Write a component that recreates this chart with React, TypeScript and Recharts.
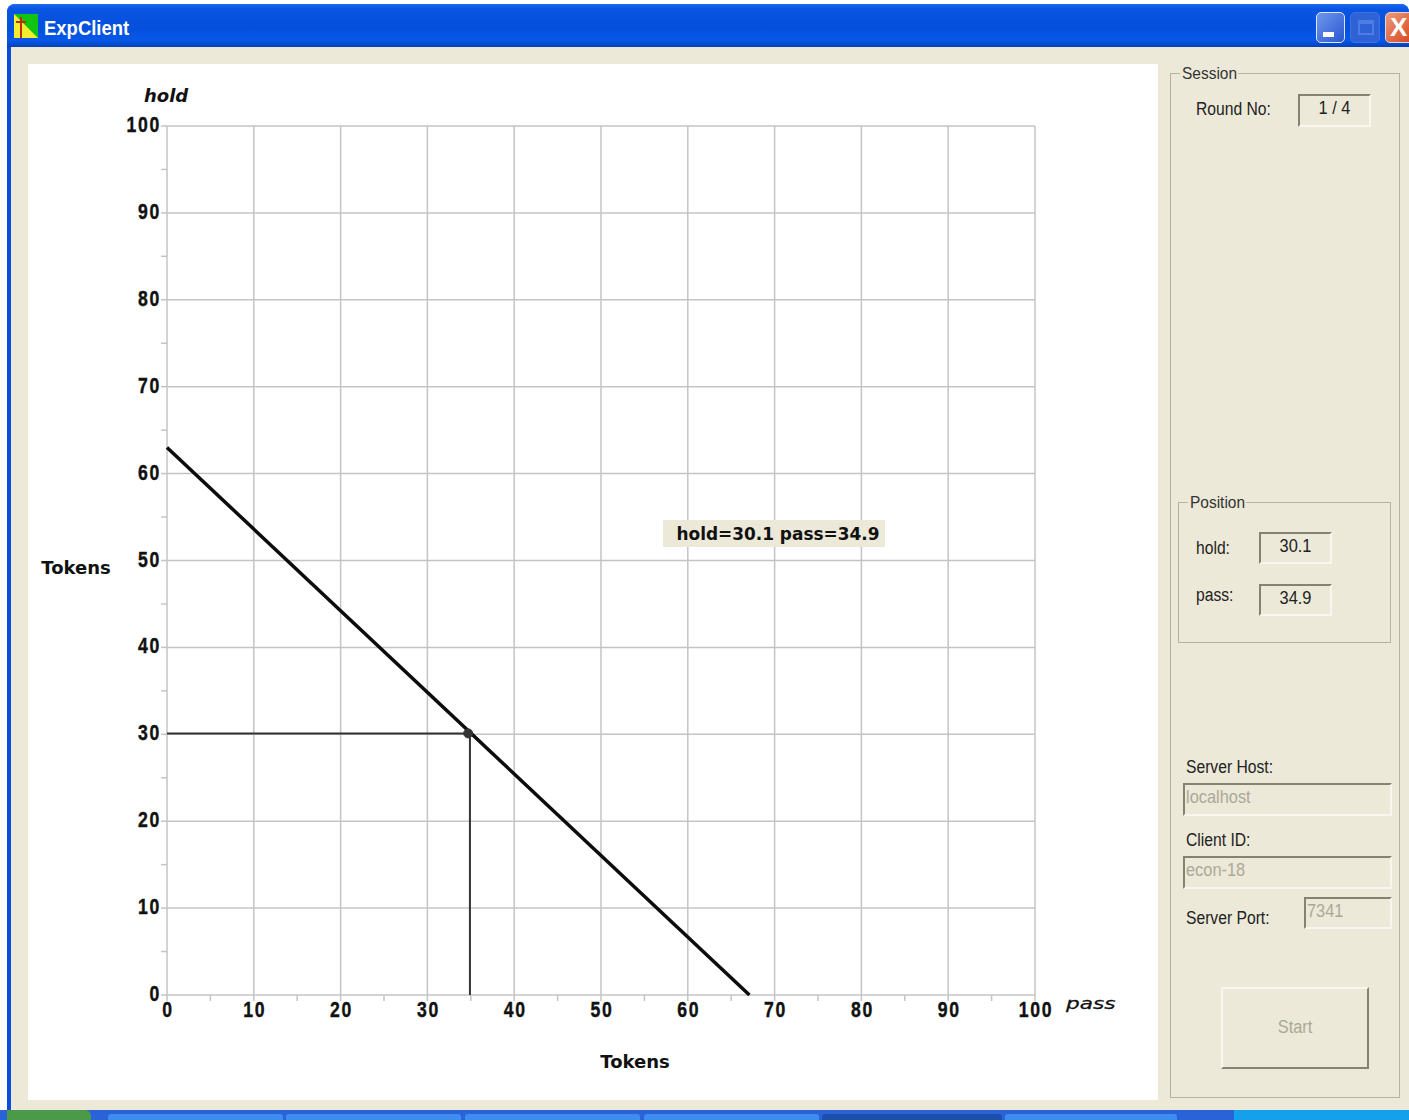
import React from "react";
import {
  ComposedChart,
  Line,
  XAxis,
  YAxis,
  CartesianGrid,
} from "recharts";

const axisTicks = [0, 5, 10, 15, 20, 25, 30, 35, 40, 45, 50, 55, 60, 65, 70, 75, 80, 85, 90, 95, 100];
const gridValues = [0, 10, 20, 30, 40, 50, 60, 70, 80, 90, 100];

const budgetLine = [
  { pass: 0, hold: 63 },
  { pass: 67.1, hold: 0 },
];
const holdGuide = [
  { pass: 0, hold: 30.1 },
  { pass: 34.9, hold: 30.1 },
];
const passGuide = [
  { pass: 34.9, hold: 30.1 },
  { pass: 34.9, hold: 0 },
];
const position = [{ pass: 34.7, hold: 30.1 }];

const UI_FONT = '"Liberation Sans", Arial, sans-serif';
const BEIGE = "#ece9d8";

// the original digits are tall and narrow with wide gaps, so squeeze them sideways
const XTick = ({ x, y, payload }: any) =>
  payload.value % 10 === 0 ? (
    <text
      transform={`translate(${x + 1},${y + 14}) scale(0.84,1.08)`}
      textAnchor="middle"
      fontFamily={UI_FONT}
      fontWeight="bold"
      fontSize={21}
      letterSpacing={2}
      stroke="#111"
      strokeWidth={0.4}
      fill="#111"
    >
      {payload.value}
    </text>
  ) : null;

const YTick = ({ x, y, payload }: any) =>
  payload.value % 10 === 0 ? (
    <text
      transform={`translate(${x + 2},${y + 6}) scale(0.84,1.08)`}
      textAnchor="end"
      fontFamily={UI_FONT}
      fontWeight="bold"
      fontSize={21}
      letterSpacing={2}
      stroke="#111"
      strokeWidth={0.4}
      fill="#111"
    >
      {payload.value}
    </text>
  ) : null;

const box = (left: number, top: number, width: number, height: number): React.CSSProperties => ({
  position: "absolute",
  left,
  top,
  width,
  height,
  boxSizing: "border-box",
});

const narrow: React.CSSProperties = {
  display: "inline-block",
  transform: "scaleX(0.91)",
  whiteSpace: "nowrap",
};

const GroupBox = ({ left, top, width, height, title }: any) => (
  <div style={{ ...box(left, top, width, height), border: "1.5px solid #b5b29e" }}>
    <span
      style={{
        position: "absolute",
        left: 9,
        top: -10,
        background: BEIGE,
        padding: "0 2px",
        fontSize: 17,
        lineHeight: "20px",
        color: "#333",
      }}
    >
      <span style={{ ...narrow, transformOrigin: "left", marginRight: -6 }}>{title}</span>
    </span>
  </div>
);

const Field = ({ left, top, width, height, text, center, muted }: any) => (
  <div
    style={{
      ...box(left, top, width, height),
      borderTop: "2.5px solid #85826f",
      borderLeft: "2.5px solid #85826f",
      borderRight: "2px solid #f8f6ee",
      borderBottom: "2.5px solid #f8f6ee",
      color: muted ? "#aca899" : "#222",
      fontSize: 18,
      lineHeight: `${height - 8}px`,
      textAlign: center ? "center" : "left",
      paddingLeft: center ? 0 : 1,
    }}
  >
    <span style={{ ...narrow, transformOrigin: center ? "center" : "left" }}>{text}</span>
  </div>
);

const Caption = ({ left, top, text }: any) => (
  <div style={{ position: "absolute", left, top, fontSize: 18, lineHeight: "20px", color: "#222" }}>
    <span style={{ ...narrow, transform: "scaleX(0.87)", transformOrigin: "left" }}>{text}</span>
  </div>
);

const TaskButton = ({ left, width, active }: any) => (
  <div
    style={{
      ...box(left, 1114, width, 6),
      background: active ? "#1c4fa8" : "#3f8cf0",
      borderRadius: "3px 3px 0 0",
    }}
  />
);

export default function App() {
  return (
    <div
      style={{
        position: "fixed",
        left: 0,
        top: 0,
        width: 1409,
        height: 1120,
        background: "#fff",
        overflow: "hidden",
        fontFamily: UI_FONT,
      }}
    >
      {/* window frame */}
      <div style={{ ...box(7, 4, 1402, 1106), background: "#0b4be0", borderRadius: "8px 8px 0 0" }} />
      <div style={{ ...box(11, 47, 1398, 1063), background: BEIGE }} />
      <div
        style={{
          ...box(7, 4, 1402, 43),
          borderRadius: "8px 8px 0 0",
          background: "linear-gradient(180deg, #1a6cf0 0%, #0a55e2 12%, #0450dc 55%, #0758e8 85%, #0440b8 100%)",
        }}
      />
      <svg style={box(14, 14, 24, 24)} viewBox="0 0 24 24">
        <rect width="24" height="24" fill="#11c411" />
        <polygon points="0,0 24,24 0,24" fill="#f4ee30" />
        <path d="M7 3V24M2 8H12" stroke="#c42a10" strokeWidth="2" />
      </svg>
      <div
        style={{
          position: "absolute",
          left: 44,
          top: 16,
          fontWeight: "bold",
          fontSize: 21,
          lineHeight: "24px",
          color: "#fff",
          transform: "scaleX(0.88)",
          transformOrigin: "left",
        }}
      >
        ExpClient
      </div>

      {/* title bar buttons */}
      <div
        style={{
          ...box(1316, 12, 29, 31),
          borderRadius: 5,
          border: "1.5px solid #dce6fa",
          background: "linear-gradient(135deg, #6f97ee, #2b57cf)",
        }}
      >
        <div style={{ ...box(6, 19, 11, 5), background: "#fff" }} />
      </div>
      <div
        style={{
          ...box(1350, 12, 30, 31),
          borderRadius: 5,
          border: "1.5px solid #3f72de",
          background: "#2f62d6",
        }}
      >
        <div style={{ ...box(7, 7, 16, 15), border: "2px solid #4d7de2", borderTopWidth: 4 }} />
      </div>
      <div
        style={{
          ...box(1385, 12, 30, 31),
          borderRadius: 5,
          border: "1.5px solid #e8d5cc",
          background: "linear-gradient(135deg, #ec9a7c, #d4441c)",
          color: "#fff",
          fontSize: 26,
          fontWeight: "bold",
          lineHeight: "28px",
          paddingLeft: 4,
        }}
      >
        X
      </div>

      {/* chart panel */}
      <div style={{ ...box(28, 64, 1130, 1036), background: "#fff" }} />
      <div style={{ position: "absolute", left: 0, top: 0 }}>
        <ComposedChart
          width={1409}
          height={1120}
          margin={{ top: 126, right: 374, bottom: 85, left: 107 }}
        >
          <CartesianGrid
            stroke="#c4c4c4"
            strokeWidth={1.5}
            verticalValues={gridValues}
            horizontalValues={gridValues}
          />
          <XAxis
            type="number"
            dataKey="pass"
            domain={[0, 100]}
            ticks={axisTicks}
            interval={0}
            height={40}
            axisLine={false}
            tickLine={{ stroke: "#c4c4c4", strokeWidth: 1.5 }}
            tickSize={6}
            tick={<XTick />}
          />
          <YAxis
            type="number"
            dataKey="hold"
            domain={[0, 100]}
            ticks={axisTicks}
            interval={0}
            width={60}
            axisLine={false}
            tickLine={{ stroke: "#c4c4c4", strokeWidth: 1.5 }}
            tickSize={6}
            tick={<YTick />}
          />
          <Line
            data={holdGuide}
            dataKey="hold"
            stroke="#333"
            strokeWidth={2}
            dot={false}
            isAnimationActive={false}
          />
          <Line
            data={passGuide}
            dataKey="hold"
            stroke="#333"
            strokeWidth={2}
            dot={false}
            isAnimationActive={false}
          />
          <Line
            data={budgetLine}
            dataKey="hold"
            stroke="#0c0c0c"
            strokeWidth={3.5}
            dot={false}
            isAnimationActive={false}
          />
          <Line
            data={position}
            dataKey="hold"
            stroke="#333"
            dot={{ r: 4.5, fill: "#333", stroke: "#333" }}
            isAnimationActive={false}
          />
          <text x={144} y={102} fontFamily="DejaVu Sans" fontStyle="italic" fontWeight="bold" fontSize={18} fill="#111">
            hold
          </text>
          <text
            transform="translate(1066,1009) scale(1.2,0.9)"
            fontFamily="DejaVu Sans"
            fontStyle="italic"
            fontSize={18}
            stroke="#111"
            strokeWidth={0.3}
            fill="#111"
          >
            pass
          </text>
          <text x={76} y={574} textAnchor="middle" fontFamily="DejaVu Sans" fontWeight="bold" fontSize={18} fill="#111">
            Tokens
          </text>
          <text x={635} y={1068} textAnchor="middle" fontFamily="DejaVu Sans" fontWeight="bold" fontSize={18} fill="#111">
            Tokens
          </text>
        </ComposedChart>
      </div>
      <div
        style={{
          ...box(663, 520, 222, 27),
          background: BEIGE,
          fontFamily: "DejaVu Sans",
          fontWeight: "bold",
          fontSize: 18,
          lineHeight: "27px",
          textAlign: "center",
          color: "#111",
          whiteSpace: "nowrap",
        }}
      >
        <span style={{ display: "inline-block", transform: "translateX(4px) scaleX(0.94)" }}>hold=30.1 pass=34.9</span>
      </div>

      {/* side panel */}
      <GroupBox left={1170} top={73} width={230} height={1025} title="Session" />
      <Caption left={1196} top={99} text="Round No:" />
      <Field left={1298} top={94} width={73} height={33} text="1 / 4" center />

      <GroupBox left={1178} top={502} width={213} height={141} title="Position" />
      <Caption left={1196} top={538} text="hold:" />
      <Field left={1259} top={532} width={73} height={32} text="30.1" center />
      <Caption left={1196} top={585} text="pass:" />
      <Field left={1259} top={584} width={73} height={32} text="34.9" center />

      <Caption left={1186} top={757} text="Server Host:" />
      <Field left={1183} top={783} width={209} height={33} text="localhost" muted />
      <Caption left={1186} top={830} text="Client ID:" />
      <Field left={1183} top={856} width={209} height={33} text="econ-18" muted />
      <Caption left={1186} top={908} text="Server Port:" />
      <Field left={1304} top={897} width={88} height={32} text="7341" muted />

      <div
        style={{
          ...box(1221, 987, 148, 82),
          borderTop: "2px solid #f8f6ee",
          borderLeft: "2px solid #f8f6ee",
          borderRight: "2.5px solid #85826f",
          borderBottom: "2.5px solid #85826f",
          color: "#aca899",
          fontSize: 18,
          lineHeight: "76px",
          textAlign: "center",
        }}
      >
        <span style={narrow}>Start</span>
      </div>

      {/* taskbar */}
      <div style={{ ...box(0, 1110, 1409, 10), background: "#2a62d8" }} />
      <div style={{ ...box(7, 1110, 84, 10), background: "#4a9a4a", borderRadius: "0 6px 0 0" }} />
      <TaskButton left={108} width={175} />
      <TaskButton left={286} width={175} />
      <TaskButton left={465} width={175} />
      <TaskButton left={644} width={175} />
      <TaskButton left={822} width={180} active />
      <TaskButton left={1005} width={172} />
      <div style={{ ...box(1234, 1110, 175, 10), background: "#14a0ea" }} />
    </div>
  );
}
